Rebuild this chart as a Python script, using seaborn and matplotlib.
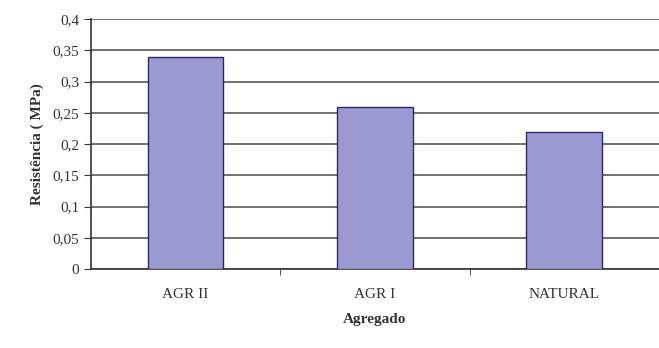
import numpy as np
import pandas as pd
import matplotlib
matplotlib.use('Agg')
import matplotlib.pyplot as plt
import seaborn as sns

# dados
agregados = ['AGR II', 'AGR I', 'NATURAL']
resistencia = [0.34, 0.26, 0.22]
yticks = [0, 0.05, 0.1, 0.15, 0.2, 0.25, 0.3, 0.35, 0.4]

df = pd.DataFrame({'Agregado': agregados, 'Resistencia': resistencia})

sns.set_style('white')
plt.rcParams['font.family'] = ['Liberation Serif', 'DejaVu Serif']

fig = plt.figure(figsize=(6.59, 3.48), dpi=100)
ax = fig.add_axes([0.138, 0.227, 0.862, 0.718])

sns.barplot(data=df, x='Agregado', y='Resistencia', color='#9b99d2',
            edgecolor='#2a2a6a', linewidth=1.0, width=0.4, saturation=1,
            ax=ax, zorder=3)

ax.set_ylim(0, 0.4)
ax.set_xlim(-0.5, 2.5)
ax.set_yticks(yticks)
ax.set_yticklabels([('%g' % v).replace('.', ',') for v in yticks], fontsize=11, color='#333333')
ax.yaxis.grid(True, color='#666666', linewidth=1.3, zorder=0)
ax.set_axisbelow(True)

# ticks do eixo x entre categorias
ax.set_xticks([0, 1, 2])
ax.set_xticklabels(agregados, fontsize=11, color='#333333')
ax.set_xticks([0.5, 1.5], minor=True)
ax.tick_params(axis='x', which='major', length=0, pad=14)
ax.tick_params(axis='x', which='minor', length=4, direction='out', color='#333333', bottom=True)
ax.tick_params(axis='y', length=5, direction='out', color='#333333', left=True)

for s in ['top', 'right']:
    ax.spines[s].set_visible(False)
for s in ['left', 'bottom']:
    ax.spines[s].set_color('#333333')
    ax.spines[s].set_linewidth(1.2)

ax.set_xlabel('Agregado', fontsize=11, fontweight='bold', color='#333333', labelpad=8)
ax.set_ylabel('Resistência ( MPa)', fontsize=11, fontweight='bold', color='#333333', labelpad=6)

plt.savefig('out.png', dpi=100)
